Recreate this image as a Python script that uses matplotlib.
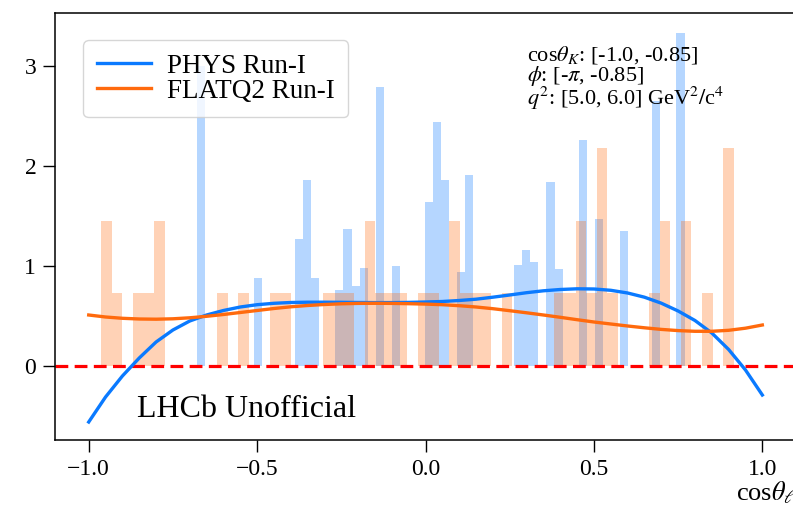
"""Angular distribution in cos(theta_l): PHYS vs FLATQ2 (Run-I) for one bin."""
import numpy as np
import matplotlib
matplotlib.use("Agg")
import matplotlib.pyplot as plt

plt.rcParams.update({
    "font.family":      "serif",
    "font.serif":       ["Liberation Serif", "DejaVu Serif"],
    "mathtext.fontset": "stix",
    "axes.linewidth":   1.1,
})

# ----------------------------------------------------------------
# data
# ----------------------------------------------------------------
phys_range = (-0.6776, 0.7690)      # histogram range, 60 bins
phys_heights = [
    3.00, 0, 0, 0, 0, 0, 0, 0.88, 0, 0,
    0, 0, 1.27, 1.86, 0.88, 0, 0, 0.76, 1.37, 0.80,
    0.98, 0, 2.79, 0, 1.00, 0, 0, 0, 1.64, 2.44,
    1.86, 0, 0.94, 1.91, 0, 0, 0, 0, 0, 1.01,
    1.16, 1.04, 0, 1.84, 0.97, 0, 0, 2.26, 0, 1.47,
    0, 0, 1.35, 0, 0, 0, 2.65, 0, 0, 3.33,
]

flat_range = (-0.9623, 0.9147)      # histogram range, 60 bins
flat_heights = [
    1.45, 0.73, 0, 0.73, 0.73, 1.45, 0, 0, 0, 0,
    0, 0.73, 0, 0.73, 0, 0, 0.73, 0.73, 0, 0,
    0, 0.73, 0.73, 0.73, 0, 1.45, 0.73, 0.73, 0.73, 0,
    0.73, 0.73, 0, 1.45, 0.73, 0.73, 0.73, 0, 0.73, 0,
    0, 0, 0, 0.73, 0.73, 1.45, 0.73, 2.18, 0.73, 0,
    0, 0, 0.73, 1.45, 0, 1.45, 0, 0.73, 0, 2.18,
]

curve_x = [
    -1.00, -0.95, -0.90, -0.85, -0.80, -0.75, -0.70, -0.65, -0.60, -0.55,
    -0.50, -0.45, -0.40, -0.35, -0.30, -0.25, -0.20, -0.15, -0.10, -0.05,
    0.00, 0.05, 0.10, 0.15, 0.20, 0.25, 0.30, 0.35, 0.40, 0.45,
    0.50, 0.55, 0.60, 0.65, 0.70, 0.75, 0.80, 0.85, 0.90, 0.95, 1.00,
]
phys_curve = [
    -0.56, -0.31, -0.10, 0.08, 0.24, 0.36, 0.45, 0.51, 0.555, 0.59,
    0.613, 0.627, 0.635, 0.638, 0.638, 0.637, 0.635, 0.634, 0.634, 0.636,
    0.640, 0.645, 0.655, 0.668, 0.688, 0.710, 0.733, 0.752, 0.765, 0.772,
    0.770, 0.757, 0.730, 0.688, 0.628, 0.550, 0.455, 0.330, 0.165, -0.04, -0.29,
]
flat_curve = [
    0.51, 0.49, 0.477, 0.47, 0.468, 0.472, 0.482, 0.497, 0.515, 0.535,
    0.555, 0.575, 0.592, 0.605, 0.615, 0.622, 0.626, 0.627, 0.626, 0.623,
    0.619, 0.613, 0.603, 0.590, 0.573, 0.553, 0.532, 0.510, 0.487, 0.463,
    0.440, 0.420, 0.400, 0.382, 0.366, 0.354, 0.347, 0.347, 0.357, 0.378, 0.41,
]

BLUE = "#0a7aff"
ORANGE = "#ff6a0d"


def hist_from_heights(ax, rng, heights, color):
    edges = np.linspace(rng[0], rng[1], len(heights) + 1)
    centers = 0.5 * (edges[:-1] + edges[1:])
    ax.hist(centers, bins=edges, weights=heights, color=color, alpha=0.3)


fig = plt.figure(figsize=(7.93, 5.13), dpi=100)
ax = fig.add_axes([0.0694, 0.1423, 0.9344, 0.8318])

hist_from_heights(ax, phys_range, phys_heights, BLUE)
hist_from_heights(ax, flat_range, flat_heights, ORANGE)

ax.axhline(0, color="red", lw=2.3, ls=(0, (4, 2)))

ax.plot(curve_x, phys_curve, color=BLUE, lw=2.4, label="PHYS Run-I")
ax.plot(curve_x, flat_curve, color=ORANGE, lw=2.4, label="FLATQ2 Run-I")

ax.set_xlim(-1.1, 1.1)
ax.set_ylim(-0.74, 3.527)
ax.set_xticks([-1.0, -0.5, 0.0, 0.5, 1.0])
ax.set_yticks([0, 1, 2, 3])
ax.tick_params(labelsize=17, length=8.5, width=1.0, pad=5)

ax.set_xlabel(r"cos$\theta_\ell$", loc="right", fontsize=19, labelpad=0)

ax.legend(loc="upper left", bbox_to_anchor=(0.038, 0.937), borderaxespad=0,
          fontsize=19.5, labelspacing=0.0, borderpad=0.5, handlelength=2.0,
          handletextpad=0.6)

ax.text(0.637, 0.927,
        "cos$\\theta_K$: [-1.0, -0.85]\n"
        "$\\phi$: [-$\\pi$, -0.85]\n"
        "$q^2$: [5.0, 6.0] GeV$^2/$c$^4$",
        transform=ax.transAxes, fontsize=16, va="top", linespacing=0.85)

ax.text(0.11, 0.054, "LHCb Unofficial", transform=ax.transAxes,
        fontsize=23)

fig.savefig("out.png", dpi=100)
